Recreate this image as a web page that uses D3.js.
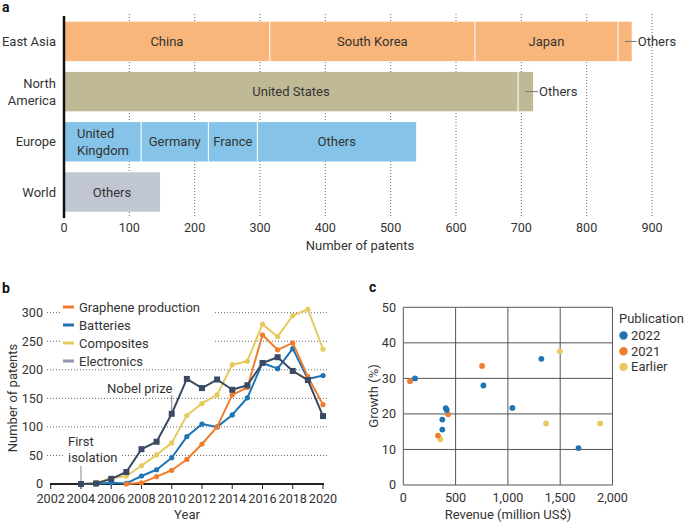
<!DOCTYPE html>
<html><head><meta charset="utf-8">
<script src="https://cdn.jsdelivr.net/npm/d3@7"></script>
<style>
html,body{margin:0;padding:0;background:#fff;}
svg text{font-family:Roboto,"Open Sans",sans-serif;fill:#333;}
</style></head>
<body>
<svg id="chart" width="685" height="523"></svg>
<script>
// ---------- Panel a data ----------
const regions = ["East Asia", "North America", "Europe", "World"];
const regionSegments = [
  ["China", "South Korea", "Japan", "Others"],
  ["United States", "Others"],
  ["United Kingdom", "Germany", "France", "Others"],
  ["Others"]
];
const regionValues = [
  [315, 314, 219, 21],
  [695, 23],
  [118, 103, 75, 243],
  [147]
];
const regionColors = ["#f9b67a", "#bfba95", "#86c3e8", "#c1c6d3"];
const patentTicks = [0, 100, 200, 300, 400, 500, 600, 700, 800, 900];

// ---------- Panel b data ----------
const yearTicks = [2002, 2004, 2006, 2008, 2010, 2012, 2014, 2016, 2018, 2020];
const countTicks = [0, 50, 100, 150, 200, 250, 300];
const seriesNames = ["Graphene production", "Batteries", "Composites", "Electronics"];
const grapheneYears = [2007, 2008, 2009, 2010, 2011, 2012, 2013, 2014, 2015, 2016, 2017, 2018, 2019, 2020];
const grapheneValues = [0, 2, 13, 24, 43, 70, 100, 156, 169, 261, 235, 247, 188, 139];
const batteriesYears = [2005, 2006, 2007, 2008, 2009, 2010, 2011, 2012, 2013, 2014, 2015, 2016, 2017, 2018, 2019, 2020];
const batteriesValues = [0, 2, 1, 14, 25, 46, 83, 105, 100, 121, 151, 212, 202, 237, 184, 190];
const compositesYears = [2004, 2005, 2006, 2007, 2008, 2009, 2010, 2011, 2012, 2013, 2014, 2015, 2016, 2017, 2018, 2019, 2020];
const compositesValues = [0, 2, 10, 14, 32, 51, 72, 120, 141, 156, 209, 215, 280, 258, 295, 306, 236];
const electronicsYears = [2004, 2005, 2006, 2007, 2008, 2009, 2010, 2011, 2012, 2013, 2014, 2015, 2016, 2017, 2018, 2019, 2020];
const electronicsValues = [0, 1, 9, 21, 61, 74, 123, 184, 168, 183, 165, 173, 212, 222, 198, 182, 119];
const seriesColors = ["#ee7d2e", "#1f74b3", "#e8c95c", "#3b4a63"];
const legendSwatchColors = ["#ee7d2e", "#1f74b3", "#e8c95c", "#8e97ab"];

// ---------- Panel c data ----------
const pubGroups = ["2022", "2021", "Earlier"];
const pubColors = ["#1f74b3", "#ee7d2e", "#e8c95c"];
const revenue2022 = [112, 406, 415, 373, 373, 766, 1043, 1320, 1675];
const growth2022 = [30.0, 21.6, 21.1, 18.4, 15.6, 28.0, 21.7, 35.5, 10.4];
const revenue2021 = [64, 753, 428, 332];
const growth2021 = [29.2, 33.5, 19.9, 13.9];
const revenueEarlier = [354, 1496, 1365, 1882];
const growthEarlier = [12.9, 37.6, 17.3, 17.3];
const revenueTicks = [0, 500, 1000, 1500, 2000];
const growthTicks = [0, 10, 20, 30, 40, 50];

const svg = d3.select("#chart");
const FS = 13;     // label font size
const TS = 12.6;   // tick font size

// =============== PANEL A ===============
const ga = svg.append("g");
ga.append("text").attr("x", 2).attr("y", 12).attr("font-weight", "bold").attr("font-size", 14)
  .style("fill", "#111").text("a");

const xa = d3.scaleLinear().domain([0, 900]).range([64, 652]);
const ya = d3.scaleBand().domain(regions).range([16.7, 216.7]).paddingInner(0.215).paddingOuter(0.1);

ga.append("g").selectAll("line").data(patentTicks.slice(1)).join("line")
  .attr("x1", d => xa(d)).attr("x2", d => xa(d)).attr("y1", 14).attr("y2", 218)
  .attr("stroke", "#666").attr("stroke-width", 1).attr("stroke-dasharray", "1,2");

regions.forEach((r, i) => {
  let cum = 0;
  const segs = regionValues[i].map((v, j) => { const s = {name: regionSegments[i][j], x0: cum, x1: cum + v}; cum += v; return s; });
  const g = ga.append("g");
  g.selectAll("rect").data(segs).join("rect")
    .attr("x", d => xa(d.x0)).attr("width", d => xa(d.x1) - xa(d.x0))
    .attr("y", ya(r)).attr("height", ya.bandwidth())
    .attr("fill", regionColors[i]);
  g.selectAll("line.sep").data(segs.slice(1)).join("line").attr("class", "sep")
    .attr("x1", d => xa(d.x0)).attr("x2", d => xa(d.x0))
    .attr("y1", ya(r)).attr("y2", ya(r) + ya.bandwidth())
    .attr("stroke", "#fff").attr("stroke-width", 1);
  const cy = ya(r) + ya.bandwidth() / 2;
  segs.forEach((s, j) => {
    const w = xa(s.x1) - xa(s.x0);
    if (w < 30) {
      const mid = (xa(s.x0) + xa(s.x1)) / 2;
      g.append("line").attr("x1", mid).attr("x2", xa(s.x1) + 5).attr("y1", cy).attr("y2", cy)
        .attr("stroke", "#777").attr("stroke-width", 1);
      g.append("text").attr("x", xa(s.x1) + 6).attr("y", cy).attr("dy", "0.35em")
        .attr("font-size", FS).text(s.name);
    } else if (s.name === "United Kingdom") {
      g.append("text").attr("x", xa(s.x0) + 13).attr("y", cy - 8.5).attr("dy", "0.35em").attr("font-size", FS).text("United");
      g.append("text").attr("x", xa(s.x0) + 13).attr("y", cy + 8.5).attr("dy", "0.35em").attr("font-size", FS).text("Kingdom");
    } else {
      g.append("text").attr("x", (xa(s.x0) + xa(s.x1)) / 2).attr("y", cy).attr("dy", "0.35em")
        .attr("text-anchor", "middle").attr("font-size", FS).text(s.name);
    }
  });
  if (r === "North America") {
    ga.append("text").attr("x", 56).attr("y", cy - 8.5).attr("dy", "0.35em").attr("text-anchor", "end").attr("font-size", FS).text("North");
    ga.append("text").attr("x", 56).attr("y", cy + 8.5).attr("dy", "0.35em").attr("text-anchor", "end").attr("font-size", FS).text("America");
  } else {
    ga.append("text").attr("x", 56).attr("y", cy).attr("dy", "0.35em").attr("text-anchor", "end").attr("font-size", FS).text(r);
  }
});
ga.append("line").attr("x1", 64).attr("x2", 64).attr("y1", 16).attr("y2", 218)
  .attr("stroke", "#111").attr("stroke-width", 2.5);
ga.append("g").selectAll("text").data(patentTicks).join("text")
  .attr("x", d => xa(d)).attr("y", 228).attr("dy", "0.35em").attr("text-anchor", "middle").attr("font-size", TS)
  .text(d => d);
ga.append("text").attr("x", 360).attr("y", 245).attr("dy", "0.35em").attr("text-anchor", "middle").attr("font-size", FS)
  .text("Number of patents");

// =============== PANEL B ===============
const gb = svg.append("g");
gb.append("text").attr("x", 2).attr("y", 293).attr("font-weight", "bold").attr("font-size", 14)
  .style("fill", "#111").text("b");
const xb = d3.scaleLinear().domain([2002, 2020]).range([50.7, 323]);
const yb = d3.scaleLinear().domain([0, 300]).range([484, 312.7]);

gb.append("g").selectAll("line").data(countTicks.slice(1)).join("line")
  .attr("x1", 47).attr("x2", 328).attr("y1", d => yb(d)).attr("y2", d => yb(d))
  .attr("stroke", "#666").attr("stroke-width", 1).attr("stroke-dasharray", "1,2");
gb.append("g").selectAll("text").data(countTicks).join("text")
  .attr("x", 43).attr("y", d => yb(d)).attr("dy", "0.35em").attr("text-anchor", "end").attr("font-size", TS)
  .text(d => d);

gb.append("rect").attr("x", 62).attr("y", 298).attr("width", 152).attr("height", 69).attr("fill", "#fff");
gb.append("rect").attr("x", 65).attr("y", 450).attr("width", 55).attr("height", 14).attr("fill", "#fff");

gb.append("line").attr("x1", xb(2004)).attr("x2", xb(2004)).attr("y1", 466).attr("y2", 483)
  .attr("stroke", "#888").attr("stroke-width", 1);
gb.append("text").attr("x", 68).attr("y", 441.5).attr("dy", "0.35em").attr("font-size", FS).text("First");
gb.append("text").attr("x", 68).attr("y", 457.5).attr("dy", "0.35em").attr("font-size", FS).text("isolation");
gb.append("line").attr("x1", xb(2010)).attr("x2", xb(2010)).attr("y1", 395).attr("y2", 411)
  .attr("stroke", "#888").attr("stroke-width", 1);
gb.append("text").attr("x", 107).attr("y", 388).attr("dy", "0.35em").attr("font-size", FS).text("Nobel prize");

gb.append("line").attr("x1", 50).attr("x2", 324).attr("y1", 484).attr("y2", 484)
  .attr("stroke", "#222").attr("stroke-width", 2.2);
gb.append("g").selectAll("line").data(yearTicks).join("line")
  .attr("x1", d => xb(d)).attr("x2", d => xb(d)).attr("y1", 484).attr("y2", 489)
  .attr("stroke", "#222").attr("stroke-width", 1);
gb.append("g").selectAll("text").data(yearTicks).join("text")
  .attr("x", d => xb(d)).attr("y", 499).attr("dy", "0.35em").attr("text-anchor", "middle").attr("font-size", TS)
  .text(d => d);
gb.append("text").attr("x", 187).attr("y", 514).attr("dy", "0.35em").attr("text-anchor", "middle").attr("font-size", FS).text("Year");
gb.append("text").attr("transform", "translate(12,398) rotate(-90)").attr("text-anchor", "middle").attr("dy", "0.35em")
  .attr("font-size", FS).text("Number of patents");

const seriesData = [
  grapheneYears.map((y, i) => [y, grapheneValues[i]]),
  batteriesYears.map((y, i) => [y, batteriesValues[i]]),
  compositesYears.map((y, i) => [y, compositesValues[i]]),
  electronicsYears.map((y, i) => [y, electronicsValues[i]])
];
const lineGen = d3.line().x(d => xb(d[0])).y(d => yb(d[1]));
[2, 1, 0, 3].forEach(si => {
  const g = gb.append("g");
  g.append("path").datum(seriesData[si]).attr("d", lineGen).attr("fill", "none")
    .attr("stroke", seriesColors[si]).attr("stroke-width", 2).attr("stroke-linejoin", "round");
  if (si === 3) {
    g.selectAll("rect").data(seriesData[si]).join("rect")
      .attr("x", d => xb(d[0]) - 3).attr("y", d => yb(d[1]) - 3).attr("width", 6).attr("height", 6)
      .attr("fill", seriesColors[si]);
  } else {
    g.selectAll("circle").data(seriesData[si]).join("circle")
      .attr("cx", d => xb(d[0])).attr("cy", d => yb(d[1])).attr("r", 2.6)
      .attr("fill", seriesColors[si]);
  }
});
seriesNames.forEach((n, i) => {
  const y = 307 + i * 18;
  gb.append("line").attr("x1", 63).attr("x2", 74).attr("y1", y).attr("y2", y)
    .attr("stroke", legendSwatchColors[i]).attr("stroke-width", 3);
  gb.append("text").attr("x", 79).attr("y", y).attr("dy", "0.35em").attr("font-size", FS).text(n);
});

// =============== PANEL C ===============
const gc = svg.append("g");
gc.append("text").attr("x", 369).attr("y", 292).attr("font-weight", "bold").attr("font-size", 14)
  .style("fill", "#111").text("c");
const xc = d3.scaleLinear().domain([0, 2000]).range([403.3, 612.5]);
const yc = d3.scaleLinear().domain([0, 50]).range([485, 307.3]);
gc.append("g").selectAll("line").data(revenueTicks).join("line")
  .attr("x1", d => xc(d)).attr("x2", d => xc(d)).attr("y1", yc(0)).attr("y2", yc(50))
  .attr("stroke", "#555").attr("stroke-width", 1);
gc.append("g").selectAll("line").data(growthTicks).join("line")
  .attr("x1", xc(0)).attr("x2", xc(2000)).attr("y1", d => yc(d)).attr("y2", d => yc(d))
  .attr("stroke", "#555").attr("stroke-width", 1);
gc.append("g").selectAll("text").data(growthTicks).join("text")
  .attr("x", 396).attr("y", d => yc(d)).attr("dy", "0.35em").attr("text-anchor", "end").attr("font-size", TS)
  .text(d => d);
gc.append("g").selectAll("text").data(revenueTicks).join("text")
  .attr("x", d => xc(d)).attr("y", 498).attr("dy", "0.35em").attr("text-anchor", "middle").attr("font-size", TS)
  .text(d => d3.format(",")(d));
gc.append("text").attr("x", 508).attr("y", 514).attr("dy", "0.35em").attr("text-anchor", "middle").attr("font-size", FS)
  .text("Revenue (million US$)");
gc.append("text").attr("transform", "translate(373,396) rotate(-90)").attr("text-anchor", "middle").attr("dy", "0.35em")
  .attr("font-size", FS).text("Growth (%)");

const pts = [
  revenue2022.map((r, i) => [r, growth2022[i], 0]),
  revenue2021.map((r, i) => [r, growth2021[i], 1]),
  revenueEarlier.map((r, i) => [r, growthEarlier[i], 2])
];
[2, 1, 0].forEach(k => {
  gc.append("g").selectAll("circle").data(pts[k]).join("circle")
    .attr("cx", d => xc(d[0])).attr("cy", d => yc(d[1])).attr("r", 2.9)
    .attr("fill", pubColors[k]);
});
gc.append("text").attr("x", 619).attr("y", 318).attr("dy", "0.35em").attr("font-size", FS).text("Publication");
pubGroups.forEach((p, i) => {
  const y = 335.5 + i * 15.7;
  gc.append("circle").attr("cx", 623.5).attr("cy", y).attr("r", 4.2).attr("fill", pubColors[i]);
  gc.append("text").attr("x", 631).attr("y", y).attr("dy", "0.35em").attr("font-size", FS).text(p);
});
</script>
</body></html>
